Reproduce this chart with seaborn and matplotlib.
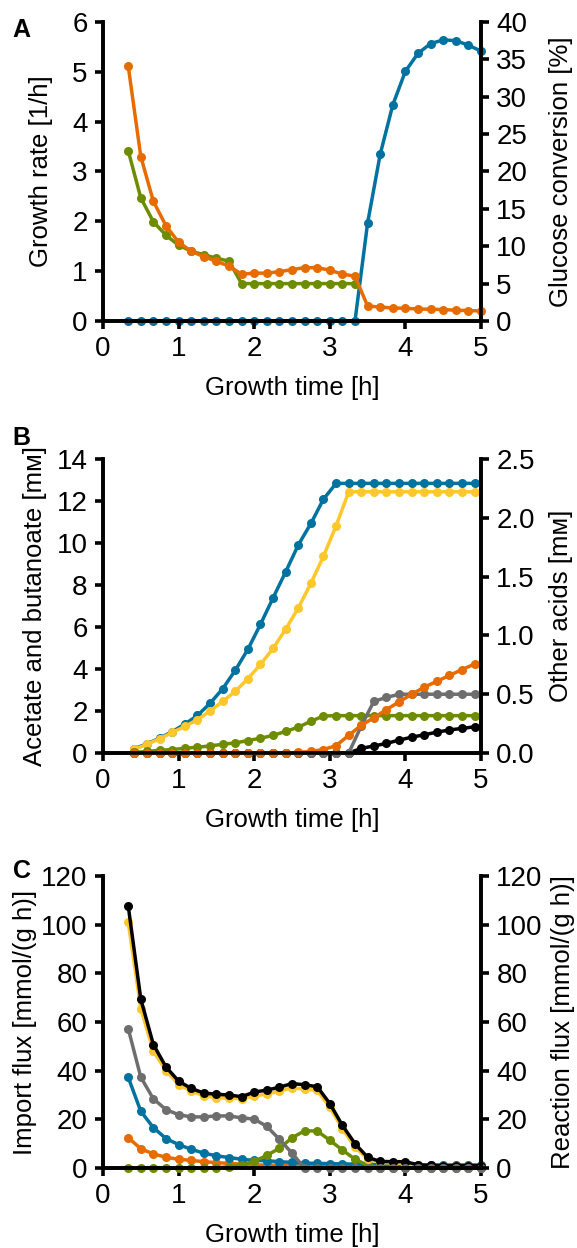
import numpy as np
import pandas as pd
from matplotlib import pyplot as plt
import seaborn as sns

# time grids (h): 10 min steps
t_a = [1/3 + k/6 for k in range(29)]
t_b = [5/12 + k/6 for k in range(28)]
t_c = [1/3 + k/6 for k in range(29)]

# panel A
growth_green = [3.42, 2.47, 1.99, 1.72, 1.52, 1.40, 1.33, 1.26, 1.20, 0.75,
                0.75, 0.75, 0.75, 0.75, 0.75, 0.75, 0.75, 0.75, 0.75]
growth_orange = [5.12, 3.30, 2.40, 1.91, 1.58, 1.40, 1.29, 1.20, 1.10, 0.94,
                 0.96, 0.96, 0.99, 1.03, 1.07, 1.07, 1.02, 0.94, 0.90,
                 0.30, 0.28, 0.26, 0.255, 0.24, 0.235, 0.23, 0.215, 0.21, 0.20]
glucose_conv = [0] * 19 + [13.1, 22.3, 28.9, 33.4, 35.8, 37.1, 37.6, 37.5, 36.9, 36.1]

# panel B (left axis)
acetate = [0.21, 0.44, 0.71, 1.02, 1.38, 1.79, 2.37, 3.06, 3.94, 4.94, 6.13, 7.39,
           8.63, 9.91, 10.93, 12.09, 12.84] + [12.84] * 11
butanoate = [0.18, 0.42, 0.68, 0.98, 1.27, 1.59, 2.00, 2.46, 2.94, 3.54, 4.22, 4.98,
             5.90, 6.91, 8.08, 9.37, 10.82, 12.44] + [12.44] * 10
# panel B (right axis)
acid_green = [0.005, 0.014, 0.023, 0.03, 0.04, 0.05, 0.06, 0.075, 0.086, 0.106,
              0.126, 0.15, 0.184, 0.22, 0.27, 0.315] + [0.318] * 12
acid_orange = [0] * 13 + [0.005, 0.014, 0.03, 0.063, 0.15, 0.236, 0.30, 0.37,
                          0.435, 0.50, 0.56, 0.61, 0.66, 0.71, 0.757]
acid_gray = [0] * 18 + [0.23, 0.44, 0.473, 0.50] + [0.50] * 6
acid_black = [0] * 18 + [0.04, 0.06, 0.082, 0.11, 0.135, 0.155, 0.178, 0.196, 0.21, 0.223]

# panel C
flux_black = [107.8, 69.4, 50.7, 41.5, 35.7, 32.7, 30.8, 30.3, 30.0, 29.3, 31.2, 32.0,
              33.2, 34.7, 34.2, 33.4, 26.5, 17.5, 10.0, 4.4, 2.7, 2.6, 2.6, 1.3, 1.1,
              1.0, 1.0, 1.0, 1.0]
flux_yellow = [101.0, 65.5, 48.0, 40.0, 34.3, 31.6, 29.7, 28.9, 28.7, 28.5, 29.6, 30.4,
               31.6, 33.0, 32.4, 31.9, 24.9, 16.2, 8.5, 3.8, 2.3, 2.0, 1.8, 1.2, 1.0,
               0.9, 0.9, 0.9, 0.9]
flux_gray = [57.3, 37.3, 28.4, 24.0, 21.9, 21.0, 21.0, 21.4, 21.4, 20.6, 20.1, 17.1,
             11.8, 6.1] + [0] * 15
flux_blue = [37.3, 23.3, 16.6, 12.1, 9.6, 7.7, 6.1, 5.0, 4.3, 3.6, 3.1, 3.0, 2.6, 2.3,
             2.0, 1.9, 1.8, 1.7, 1.6, 1.5, 1.4, 1.4, 1.3, 1.3, 1.2, 1.2, 1.2, 1.2, 1.2]
flux_orange = [12.5, 7.9, 5.8, 4.4, 3.6, 3.1, 2.6, 2.2, 1.9, 1.6, 1.3, 1.2, 1.2, 1.2,
               1.2, 1.2, 1.1, 1.1, 1.0, 0.9, 0.8, 0.8, 0.7, 0.7, 0.6, 0.6, 0.6, 0.6, 0.6]
flux_green = [0] * 7 + [0.1, 0.5, 1.2, 2.7, 5.2, 8.1, 12.4, 15.3, 15.2, 11.4, 7.4, 3.6,
                        1.1, 0.1] + [0] * 8

BLUE = "#0072a0"
ORANGE = "#e66c00"
GREEN = "#6e8c00"
YELLOW = "#ffc72c"
GRAY = "#6e6e6e"
BLACK = "#000000"

sns.set_style("ticks")
plt.rcParams['font.family'] = ['Liberation Sans', 'DejaVu Sans']
plt.rcParams['font.size'] = 18.5
plt.rcParams['axes.linewidth'] = 2.6
plt.rcParams['text.color'] = 'black'
plt.rcParams['axes.labelcolor'] = 'black'
plt.rcParams['axes.edgecolor'] = 'black'
for k in ['xtick', 'ytick']:
    plt.rcParams[k + '.major.width'] = 2.6
    plt.rcParams[k + '.major.size'] = 6
    plt.rcParams[k + '.major.pad'] = 5
    plt.rcParams[k + '.labelsize'] = 20
    plt.rcParams[k + '.color'] = 'black'
    plt.rcParams[k + '.labelcolor'] = 'black'


def draw(ax, t, y, color):
    n = len(y)
    df = pd.DataFrame({"t": t[:n], "y": y})
    sns.lineplot(data=df, x="t", y="y", ax=ax, color=color, marker="o",
                 markersize=6.5, markeredgewidth=0, linewidth=2.5, clip_on=False)


def style(ax, ax2, ytop, yticks, rticks, rlabels=None):
    ax.set_xlim(0, 5)
    ax.set_ylim(0, ytop[0])
    ax2.set_ylim(0, ytop[1])
    ax.set_xticks(range(6))
    ax.set_yticks(yticks)
    ax2.set_yticks(rticks)
    if rlabels is not None:
        ax2.set_yticklabels(rlabels)
    for a in (ax, ax2):
        a.spines['top'].set_visible(False)
        a.spines['right'].set_visible(True)
    ax.set_xlabel("Growth time [h]", labelpad=10)


fig = plt.figure(figsize=(5.77, 12.48), dpi=100)
L, W = 0.1785, 0.6551

# A
axA = fig.add_axes([L, 0.7428, W, 0.2396])
axA2 = axA.twinx()
draw(axA, t_a, growth_green, GREEN)
draw(axA, t_a, growth_orange, ORANGE)
draw(axA2, t_a, glucose_conv, BLUE)
axA.set_zorder(axA2.get_zorder() + 1)
axA.patch.set_visible(False)
style(axA, axA2, (6, 40), range(7), range(0, 41, 5))
axA.set_ylabel("Growth rate [1/h]", labelpad=14)
axA2.set_ylabel("Glucose conversion [%]", labelpad=16)

# B
axB = fig.add_axes([L, 0.3966, W, 0.2356])
axB2 = axB.twinx()
draw(axB, t_b, acetate, BLUE)
draw(axB, t_b, butanoate, YELLOW)
draw(axB2, t_b, acid_green, GREEN)
draw(axB2, t_b, acid_black, BLACK)
draw(axB2, t_b, acid_gray, GRAY)
draw(axB2, t_b, acid_orange, ORANGE)
style(axB, axB2, (14, 2.5), range(0, 15, 2), np.arange(0, 2.51, 0.5),
      ["0.0", "0.5", "1.0", "1.5", "2.0", "2.5"])
axB.set_ylabel("Acetate and butanoate [mᴍ]", labelpad=7)
axB2.set_ylabel("Other acids [mᴍ]", labelpad=10)

# C
axC = fig.add_axes([L, 0.0641, W, 0.2340])
axC2 = axC.twinx()
draw(axC, t_c, flux_orange, ORANGE)
draw(axC, t_c, flux_blue, BLUE)
draw(axC, t_c, flux_green, GREEN)
draw(axC, t_c, flux_yellow, YELLOW)
draw(axC, t_c, flux_black, BLACK)
draw(axC, t_c, flux_gray, GRAY)
style(axC, axC2, (120, 120), range(0, 121, 20), range(0, 121, 20))
axC.set_ylabel("Import flux [mmol/(g h)]", labelpad=3)
axC2.set_ylabel("Reaction flux [mmol/(g h)]", labelpad=6)

for lab, y in [("A", 0.976), ("B", 0.649), ("C", 0.302)]:
    fig.text(0.022, y, lab, fontsize=18, fontweight="bold", va="center")

fig.savefig("out.png", dpi=100)
